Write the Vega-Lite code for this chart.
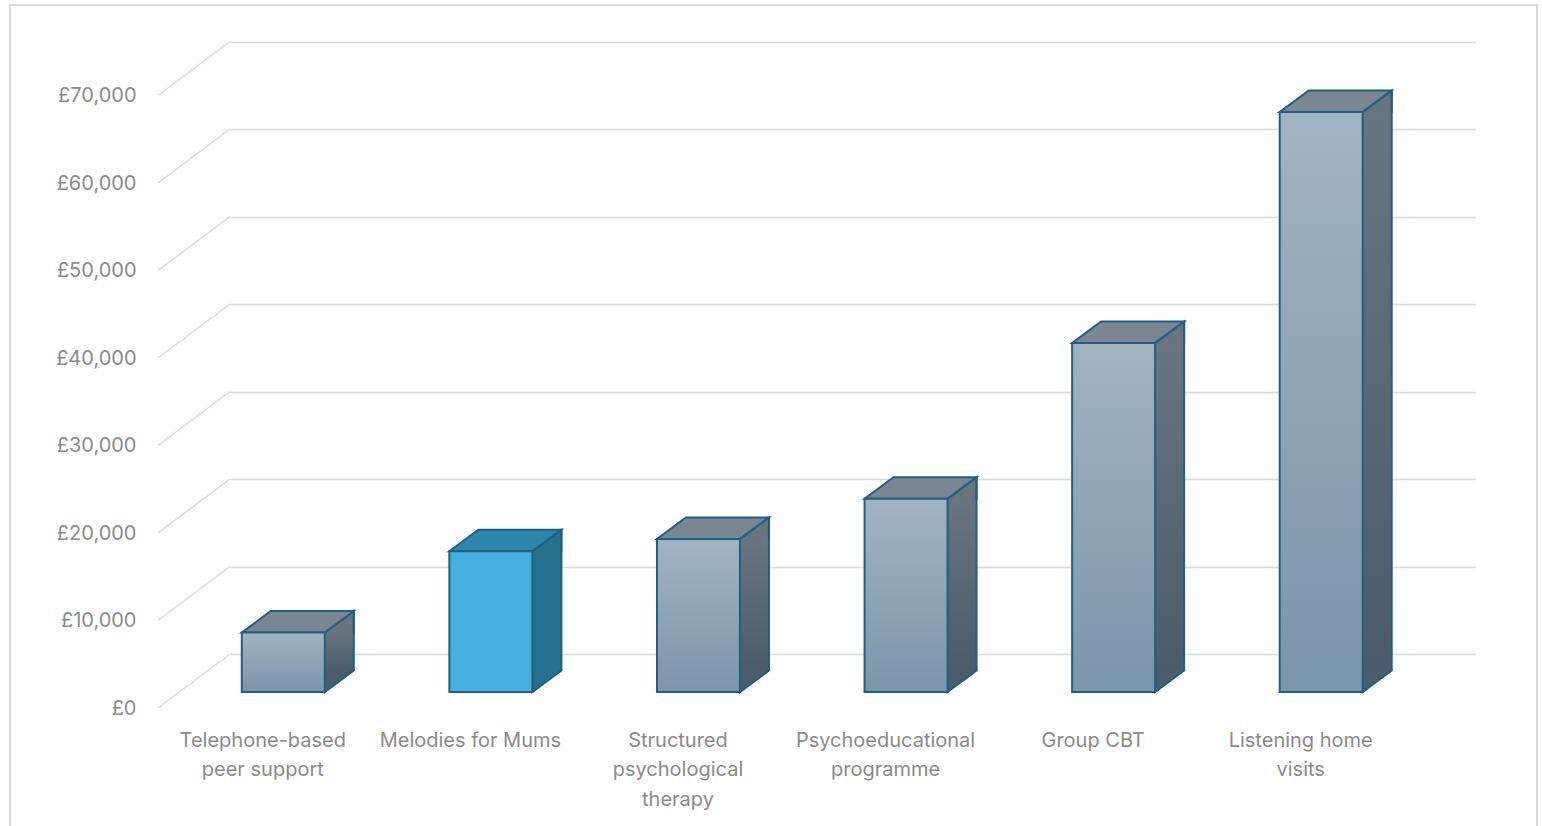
{
  "$schema": "https://vega.github.io/schema/vega-lite/v6.json",
  "width": 1527,
  "height": 823,
  "autosize": {"type": "none"},
  "padding": {"left": 10, "top": 5, "right": 5, "bottom": 0},
  "background": "white",
  "config": {
    "font": "Inter",
    "view": {"stroke": "#d9d9d9", "strokeWidth": 2},
    "axis": {"labelFont": "Inter"}
  },
  "datasets": {
    "costs": [
      {"program": "Telephone-based peer support", "cost": 6800},
      {"program": "Melodies for Mums", "cost": 16100},
      {"program": "Structured psychological therapy", "cost": 17500},
      {"program": "Psychoeducational programme", "cost": 22100},
      {"program": "Group CBT", "cost": 39900},
      {"program": "Listening home visits", "cost": 66300}
    ],
    "ticks": [
      {"v": 0}, {"v": 10000}, {"v": 20000}, {"v": 30000},
      {"v": 40000}, {"v": 50000}, {"v": 60000}, {"v": 70000}
    ]
  },
  "data": {"name": "costs"},
  "encoding": {
    "x": {
      "field": "program",
      "type": "nominal",
      "sort": null,
      "scale": {"type": "band", "range": [220, 1465.5], "paddingInner": 0, "paddingOuter": 0},
      "axis": {
        "title": null,
        "domain": false,
        "ticks": false,
        "tickSize": 0,
        "grid": false,
        "offset": -174,
        "labelPadding": 76,
        "labelOffset": -71,
        "labelAngle": 0,
        "labelAlign": "center",
        "labelBaseline": "top",
        "labelFontSize": 20,
        "labelColor": "#8a8a8a",
        "labelLineHeight": 29.5,
        "labelLimit": 400,
        "labelOverlap": false,
        "labelExpr": "split(trim(replace(datum.value, regexp('(.{1,18})( +|$)', 'g'), '$1\\n')), '\\n')"
      }
    },
    "y": {
      "field": "cost",
      "type": "quantitative",
      "scale": {"domain": [0, 70000], "range": [649, 36.5], "nice": false, "zero": true},
      "axis": {
        "title": null,
        "domain": false,
        "ticks": false,
        "tickSize": 0,
        "offset": -148,
        "labelPadding": 22,
        "labelOffset": 54,
        "labelFontSize": 20,
        "labelColor": "#8a8a8a",
        "values": [0, 10000, 20000, 30000, 40000, 50000, 60000, 70000],
        "labelExpr": "'£' + format(datum.value, ',')",
        "grid": true,
        "gridColor": "#d9d9d9",
        "gridWidth": 1.5
      }
    }
  },
  "layer": [
    {
      "mark": {"type": "bar", "width": 29, "xOffset": 5.5, "yOffset": 38, "y2Offset": 16.5, "strokeWidth": 0},
      "encoding": {
        "y2": {"datum": 0},
        "fill": {
          "condition": {"test": "datum.program === 'Melodies for Mums'", "value": "#25708f"},
          "value": {"gradient": "linear", "x1": 0, "y1": 0, "x2": 0, "y2": 1,
            "stops": [{"offset": 0, "color": "#69757f"}, {"offset": 1, "color": "#4b5b69"}]}
        }
      }
    },
    {
      "mark": {"type": "point", "shape": "M0,1L0,0L29,-21.5L29,1", "size": 4, "filled": true, "opacity": 1,
        "xOffset": -9, "yOffset": 38, "stroke": "#1f5f80", "strokeWidth": 2, "strokeJoin": "miter"},
      "encoding": {
        "fill": {
          "condition": {"test": "datum.program === 'Melodies for Mums'", "value": "#25708f"},
          "value": "#68747e"
        }
      }
    },
    {
      "mark": {"type": "point", "shape": "M0,-22.5L0,0L29,-21.5L29,-22.5", "size": 4, "filled": true, "opacity": 1,
        "xOffset": -9, "yOffset": 38, "stroke": "#1f5f80", "strokeWidth": 2, "strokeJoin": "miter"},
      "encoding": {
        "y": {"datum": 0, "type": "quantitative"},
        "fill": {
          "condition": {"test": "datum.program === 'Melodies for Mums'", "value": "#25708f"},
          "value": "#4c5c6a"
        }
      }
    },
    {
      "mark": {"type": "rule", "xOffset": 20, "yOffset": 16.5, "y2Offset": 16.5, "color": "#1f5f80", "strokeWidth": 2},
      "encoding": {"y2": {"datum": 0}}
    },
    {
      "mark": {"type": "point", "shape": "M0,0L83,0L112,-21.5L29,-21.5Z", "size": 4, "filled": true, "opacity": 1,
        "xOffset": -92, "yOffset": 38, "stroke": "#1f5f80", "strokeWidth": 2, "strokeJoin": "miter"},
      "encoding": {
        "fill": {
          "condition": {"test": "datum.program === 'Melodies for Mums'", "value": "#2f86ad"},
          "value": "#7a8793"
        }
      }
    },
    {
      "mark": {"type": "bar", "width": 83, "xOffset": -50.5, "yOffset": 38, "y2Offset": 38,
        "stroke": "#1f5f80", "strokeWidth": 2, "strokeJoin": "miter"},
      "encoding": {
        "y2": {"datum": 0},
        "fill": {
          "condition": {"test": "datum.program === 'Melodies for Mums'", "value": "#46b1e1"},
          "value": {"gradient": "linear", "x1": 0, "y1": 0, "x2": 0, "y2": 1,
            "stops": [{"offset": 0, "color": "#a2b3c2"}, {"offset": 1, "color": "#7b95ab"}]}
        }
      }
    },
    {
      "data": {"name": "ticks"},
      "mark": {"type": "rule", "color": "#d9d9d9", "strokeWidth": 1.5, "xOffset": -175.8, "yOffset": 54, "x2Offset": -103.8},
      "encoding": {
        "x": {"datum": "Telephone-based peer support", "type": "nominal"},
        "x2": {"datum": "Telephone-based peer support"},
        "y": {"field": "v", "type": "quantitative"},
        "y2": {"field": "v"}
      }
    }
  ]
}
